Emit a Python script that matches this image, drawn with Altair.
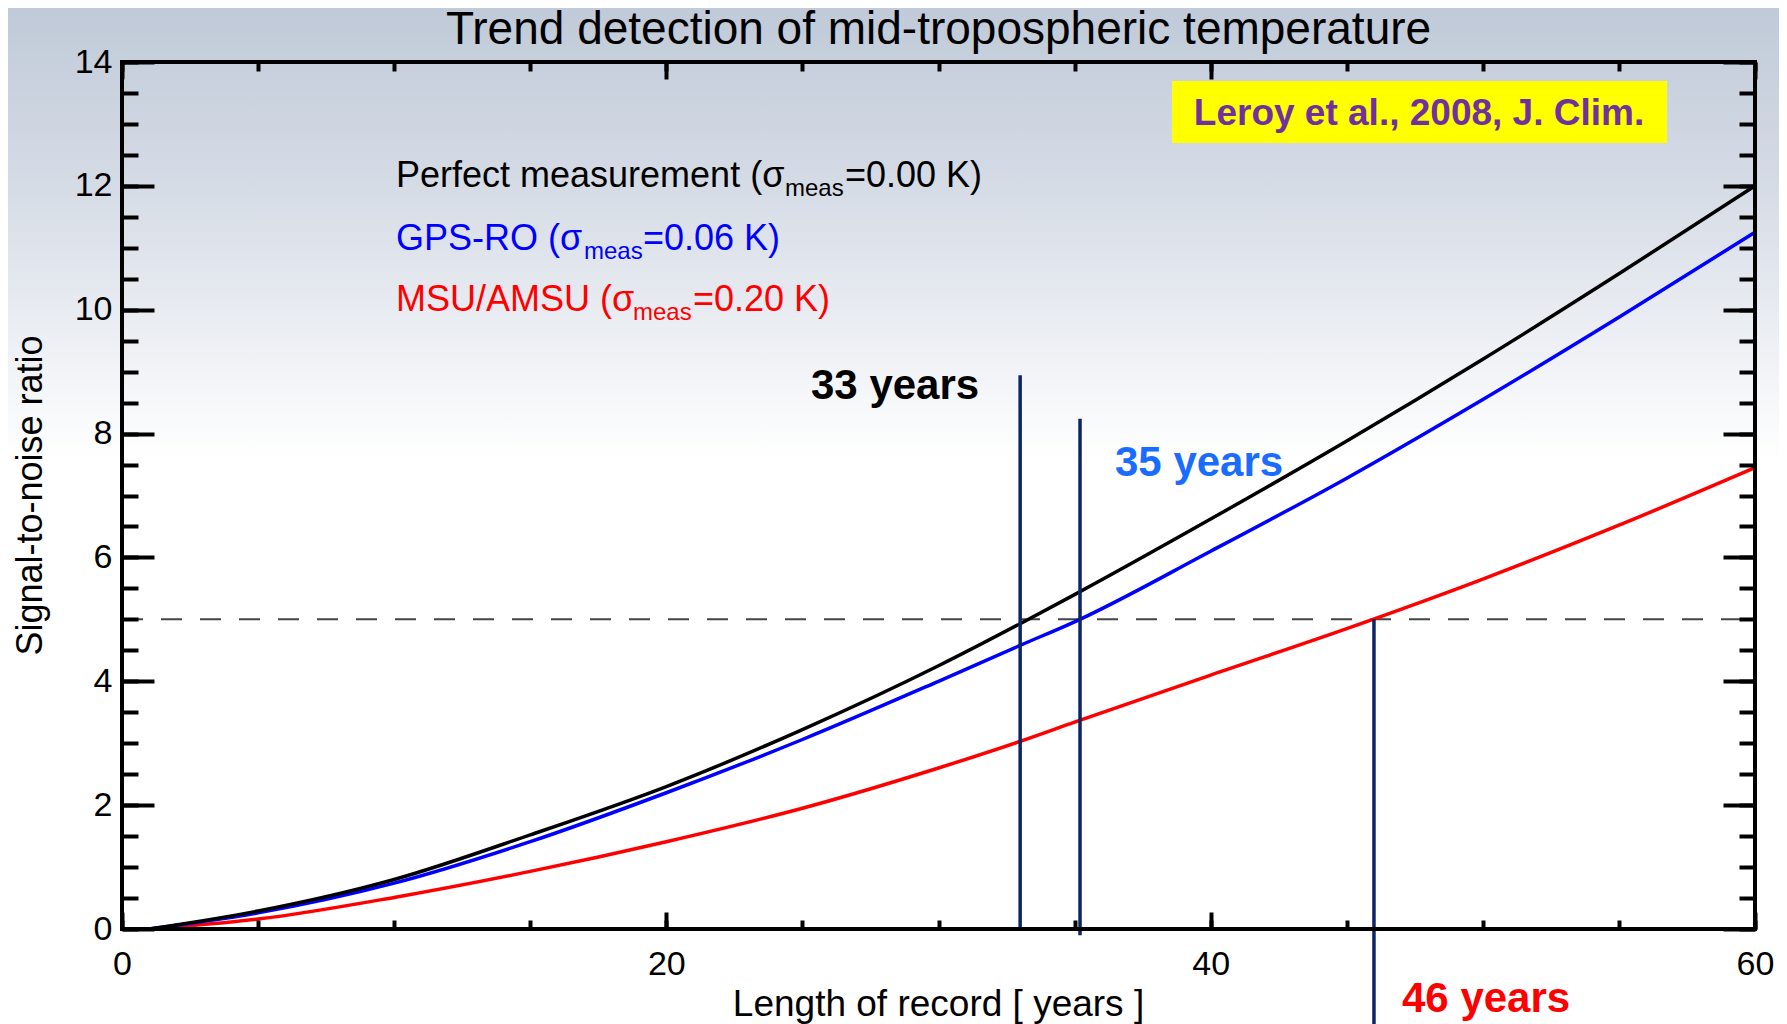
import altair as alt
import pandas as pd

# ---- data ----
years = [1, 5, 10, 15, 20, 25, 30, 33, 35, 40, 45, 50, 55, 60]
snr_perfect = [0.0, 0.29, 0.80, 1.52, 2.30, 3.22, 4.25, 4.93, 5.40, 6.62, 7.88, 9.20, 10.58, 12.0]
snr_gps = [0.0, 0.26, 0.74, 1.41, 2.20, 3.06, 4.00, 4.58, 4.96, 6.10, 7.28, 8.55, 9.88, 11.25]
snr_msu = [0.0, 0.16, 0.51, 0.93, 1.41, 1.95, 2.60, 3.03, 3.34, 4.10, 4.85, 5.65, 6.52, 7.45]
series_names = ["perfect", "gps", "msu"]

threshold = [5.0]
threshold_span = [0, 60]
vline_years = [33, 35.2, 46]
vline_top = [8.94, 8.24, 5.0]
vline_bottom = [0.0, -0.1, -1.54]

x_major = [0, 20, 40, 60]
x_minor = list(range(0, 61, 5))
y_major = list(range(0, 15, 2))
y_minor = [i * 0.5 for i in range(29)]

W, H = 1633, 867
FONT = "Liberation Sans"

rows = []
for name, vals in zip(series_names, [snr_perfect, snr_gps, snr_msu]):
    for yr, v in zip(years, vals):
        rows.append({"series": name, "year": yr, "snr": v})
lines_df = pd.DataFrame(rows)

xs = alt.Scale(domain=[0, 60], nice=False, zero=False)
ys = alt.Scale(domain=[0, 14], nice=False, zero=False)


def axis(orient, values, size, labels=False, pad=0):
    kw = dict(orient=orient, values=values, tickSize=size, offset=-size,
              domain=False, grid=False, ticks=True, tickColor="black",
              tickWidth=4, labels=labels, title=None, zindex=2)
    if labels:
        kw.update(labelFont=FONT, labelFontSize=34, labelColor="black",
                  labelPadding=pad, labelFlush=False, labelOverlap=False)
    return alt.Axis(**kw)


def line_layer(name, color, xaxis, yaxis):
    return alt.Chart(lines_df).transform_filter(
        alt.datum.series == name
    ).mark_line(color=color, strokeWidth=3.5, interpolate="monotone").encode(
        x=alt.X("year:Q", scale=xs, axis=xaxis),
        y=alt.Y("snr:Q", scale=ys, axis=yaxis),
    )


one = pd.DataFrame({"k": [0]})


def txt(s, x, y, size, color="black", bold=False, align="left", angle=0):
    kw = dict(text=s, font=FONT, fontSize=size, color=color, align=align,
              baseline="alphabetic")
    if bold:
        kw["fontWeight"] = "bold"
    if angle:
        kw["angle"] = angle
    return alt.Chart(one).mark_text(**kw).encode(x=alt.value(x), y=alt.value(y))


PAD_L, PAD_T, PAD_R, PAD_B = 114, 54, 24, 150

bg = alt.Chart(one).mark_rect(
    fill={"gradient": "linear", "x1": 0, "y1": 0, "x2": 0, "y2": 1,
          "stops": [{"offset": 0, "color": "#c0cad8"},
                    {"offset": 0.18, "color": "#d6dce6"},
                    {"offset": 0.45, "color": "#ffffff"},
                    {"offset": 1, "color": "#ffffff"}]}
).encode(x=alt.value(-PAD_L), x2=alt.value(W + PAD_R), y=alt.value(-PAD_T), y2=alt.value(H + 87))

leroy_box = alt.Chart(one).mark_rect(fill="#ffff00").encode(
    x=alt.value(1050), x2=alt.value(1545), y=alt.value(19), y2=alt.value(81))

dash_df = pd.DataFrame({"x0": [threshold_span[0]], "x1": [threshold_span[1]], "y": threshold})
dash = alt.Chart(dash_df).mark_rule(color="#444444", strokeWidth=2, strokeDash=[21, 18]).encode(
    x=alt.X("x0:Q", scale=xs, axis=None), x2="x1:Q",
    y=alt.Y("y:Q", scale=ys, axis=None))

black = line_layer("perfect", "#000000", axis("bottom", x_major, 17, True, 18), axis("left", y_major, 32, True, 10))
blue = line_layer("gps", "#0000ff", axis("bottom", x_minor, 9), axis("left", y_minor, 16))
red = line_layer("msu", "#ff0000", axis("top", x_major, 17), axis("right", y_major, 32))

vl_df = pd.DataFrame({"year": vline_years, "top": vline_top, "bottom": vline_bottom})
vlines = alt.Chart(vl_df).mark_rule(color="#0b2566", strokeWidth=3.5).encode(
    x=alt.X("year:Q", scale=xs, axis=axis("top", x_minor, 9)),
    y=alt.Y("top:Q", scale=ys, axis=axis("right", y_minor, 16)),
    y2="bottom:Q")

frame = alt.Chart(one).mark_rect(fill="transparent", stroke="black", strokeWidth=4).encode(
    x=alt.value(0), x2=alt.value(W), y=alt.value(0), y2=alt.value(H))

texts = [
    txt("Trend detection of mid-tropospheric temperature", W / 2, -18, 46, align="center"),
    txt("Signal-to-noise ratio", -80, H / 2, 36, align="center", angle=270),
    txt("Length of record [ years ]", W / 2, 954, 37, align="center"),
    txt("Perfect measurement (σ", 274, 125, 36, "#000000"),
    txt("meas", 663, 134, 24, "#000000"),
    txt("=0.00 K)", 723, 125, 36, "#000000"),
    txt("GPS-RO (σ", 274, 188, 36, "#0000ff"),
    txt("meas", 462, 197, 24, "#0000ff"),
    txt("=0.06 K)", 521, 188, 36, "#0000ff"),
    txt("MSU/AMSU (σ", 274, 249, 36, "#ff0000"),
    txt("meas", 511, 258, 24, "#ff0000"),
    txt("=0.20 K)", 571, 249, 36, "#ff0000"),
    txt("Leroy et al., 2008, J. Clim.", 1297, 63, 37, "#7030a0", bold=True, align="center"),
    txt("33 years", 689, 337, 42, "#000000", bold=True),
    txt("35 years", 993, 414, 42, "#1a6cff", bold=True),
    txt("46 years", 1280, 950, 42, "#ff0000", bold=True),
]

chart = alt.layer(
    bg, leroy_box, dash, red, blue, black, vlines, frame, *texts
).resolve_axis(x="independent", y="independent").properties(
    width=W, height=H,
    autosize=alt.AutoSizeParams(type="none"),
    padding={"left": PAD_L, "top": PAD_T, "right": PAD_R, "bottom": PAD_B},
    background="white",
).configure_view(strokeWidth=0)

chart.save("out.html", embed_options={"renderer": "svg", "actions": False})
